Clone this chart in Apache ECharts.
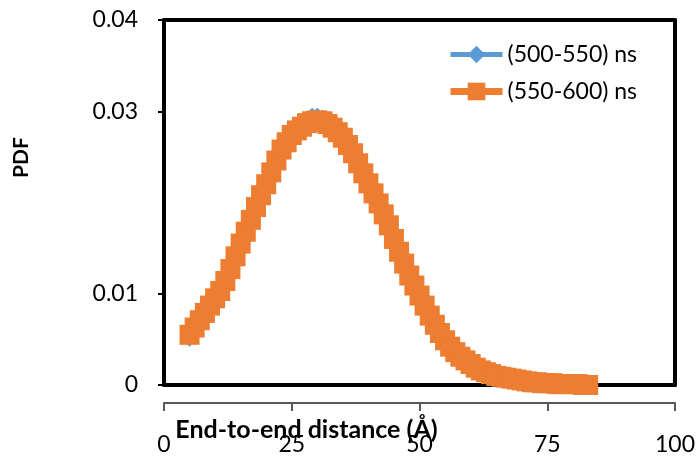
<!DOCTYPE html>
<html>
<head>
<meta charset="utf-8">
<script src="https://cdn.jsdelivr.net/npm/echarts@6/dist/echarts.min.js"></script>
<style>
  html, body { margin: 0; padding: 0; background: #fff; }
  #chart { width: 699px; height: 459px; }
</style>
</head>
<body>
<div id="chart"></div>
<script>
// end-to-end distance (Å)
var distance = [5, 6, 7, 8, 9, 10, 11, 12, 13, 14, 15, 16, 17, 18, 19, 20,
  21, 22, 23, 24, 25, 26, 27, 28, 29, 30, 31, 32, 33, 34, 35, 36, 37, 38, 39, 40,
  41, 42, 43, 44, 45, 46, 47, 48, 49, 50, 51, 52, 53, 54, 55, 56, 57, 58, 59, 60,
  61, 62, 63, 64, 65, 66, 67, 68, 69, 70, 71, 72, 73, 74, 75, 76, 77, 78, 79, 80,
  81, 82, 83];

var pdf500 = [0.0053, 0.0062, 0.0070, 0.0078, 0.0086, 0.0095, 0.0103, 0.0114, 0.0127, 0.0141,
  0.0155, 0.0168, 0.0181, 0.0195, 0.0208, 0.0221, 0.0234, 0.0247, 0.0259, 0.0268,
  0.0276, 0.0282, 0.0286, 0.0290, 0.0293, 0.0293, 0.0291, 0.0287, 0.0283, 0.0277,
  0.0271, 0.0263, 0.0254, 0.0243, 0.0232, 0.0221, 0.0210, 0.0199, 0.0187, 0.0175,
  0.0160, 0.0146, 0.0133, 0.0120, 0.0109, 0.0098, 0.0087, 0.0076, 0.0066, 0.0057,
  0.0049, 0.0042, 0.0036, 0.0031, 0.0027, 0.0023, 0.0019, 0.0016, 0.0014, 0.0012,
  0.0010, 0.0009, 0.0008, 0.0007, 0.0006, 0.0005, 0.0004, 0.0003, 0.0003, 0.0002,
  0.0002, 0.0002, 0.0001, 0.0001, 0.0001, 0.0001, 0.0001, 0.0000, 0.0000];

var pdf550 = [0.0055, 0.0063, 0.0071, 0.0079, 0.0087, 0.0095, 0.0103, 0.0114, 0.0127, 0.0141,
  0.0155, 0.0168, 0.0181, 0.0195, 0.0208, 0.0220, 0.0233, 0.0246, 0.0258, 0.0266,
  0.0274, 0.0279, 0.0283, 0.0287, 0.0289, 0.0290, 0.0289, 0.0286, 0.0282, 0.0277,
  0.0271, 0.0263, 0.0254, 0.0243, 0.0232, 0.0221, 0.0210, 0.0199, 0.0187, 0.0175,
  0.0160, 0.0146, 0.0133, 0.0120, 0.0109, 0.0098, 0.0087, 0.0076, 0.0066, 0.0057,
  0.0049, 0.0042, 0.0036, 0.0031, 0.0027, 0.0023, 0.0019, 0.0016, 0.0014, 0.0012,
  0.0010, 0.0009, 0.0008, 0.0007, 0.0006, 0.0005, 0.0004, 0.0003, 0.0003, 0.0002,
  0.0002, 0.0002, 0.0001, 0.0001, 0.0001, 0.0001, 0.0001, 0.0000, 0.0000];

var seriesNames = ['(500-550) ns', '(550-600) ns'];
var yTickValues = [0, 0.01, 0.03, 0.04];

function pairs(xs, ys) {
  return xs.map(function (x, i) { return [x, ys[i]]; });
}

// plain black line used for the box edges
var frameLine = { show: true, onZero: false, lineStyle: { color: '#000', width: 4 } };

var chart = echarts.init(document.getElementById('chart'));
chart.setOption({
  animation: false,
  textStyle: { fontFamily: 'Lato' },
  grid: {
    left: 164, right: 24, top: 20, bottom: 74,
    outerBoundsMode: 'none',
    containLabel: false
  },
  legend: {
    orient: 'vertical',
    left: 442, top: 38,
    itemWidth: 52, itemHeight: 22, itemGap: 14,
    textStyle: { fontSize: 23, color: '#000' },
    data: [
      { name: seriesNames[0], lineStyle: { width: 5 } },
      { name: seriesNames[1], lineStyle: { width: 7 } }
    ]
  },
  xAxis: [
    {
      type: 'value',
      min: 0, max: 100, interval: 25,
      offset: 18,
      name: 'End-to-end distance (\u00C5)',
      nameLocation: 'middle',
      nameGap: 14,
      nameMoveOverlap: false,
      nameTextStyle: { fontSize: 25, fontWeight: 'bold', color: '#000', padding: [0, 226, 0, 0] },
      axisLine: { onZero: false, lineStyle: { color: '#595959', width: 2 } },
      axisTick: { show: true, length: 8, lineStyle: { color: '#595959', width: 2 } },
      axisLabel: { fontSize: 23, color: '#000', margin: 30 },
      splitLine: { show: false }
    },
    // bottom edge of the box
    {
      type: 'value', min: 0, max: 100, position: 'bottom',
      axisLine: frameLine, axisTick: { show: false }, axisLabel: { show: false }, splitLine: { show: false }
    },
    // top edge of the box
    {
      type: 'value', min: 0, max: 100, position: 'top',
      axisLine: frameLine, axisTick: { show: false }, axisLabel: { show: false }, splitLine: { show: false }
    }
  ],
  yAxis: [
    {
      type: 'value',
      min: 0, max: 0.04, interval: 0.01,
      name: 'PDF',
      nameLocation: 'middle',
      nameRotate: 90,
      nameGap: 132,
      nameMoveOverlap: false,
      nameTextStyle: { fontSize: 21, fontWeight: 'bold', color: '#000', padding: [0, 0, 0, 90] },
      axisLine: { show: true, onZero: false, lineStyle: { color: '#000', width: 4 } },
      axisTick: { show: true, length: 6, customValues: yTickValues, lineStyle: { color: '#000', width: 2 } },
      axisLabel: { fontSize: 23, color: '#000', margin: 26, customValues: yTickValues },
      splitLine: { show: false }
    },
    // right edge of the box
    {
      type: 'value', min: 0, max: 0.04, position: 'right',
      axisLine: frameLine, axisTick: { show: false }, axisLabel: { show: false }, splitLine: { show: false }
    }
  ],
  series: [
    {
      name: seriesNames[0],
      type: 'line',
      data: pairs(distance, pdf500),
      symbol: 'diamond',
      symbolSize: 20,
      clip: false,
      z: 3,
      itemStyle: { color: '#5B9BD5' },
      lineStyle: { color: '#5B9BD5', width: 5 }
    },
    {
      name: seriesNames[1],
      type: 'line',
      data: pairs(distance, pdf550),
      symbol: 'rect',
      symbolSize: 20,
      clip: false,
      z: 4,
      itemStyle: { color: '#ED7D31' },
      lineStyle: { color: '#ED7D31', width: 7 }
    }
  ]
});
</script>
</body>
</html>
